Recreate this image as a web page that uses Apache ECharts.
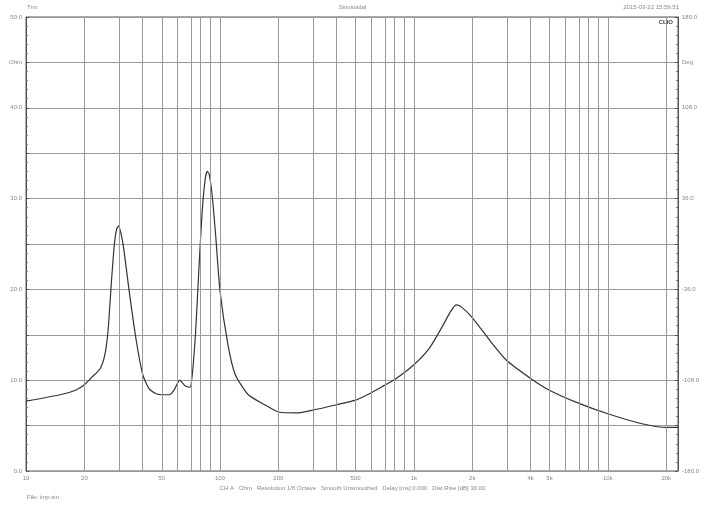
<!DOCTYPE html>
<html>
<head>
<meta charset="utf-8">
<script src="https://cdn.jsdelivr.net/npm/echarts@6/dist/echarts.min.js"></script>
<style>html,body{margin:0;padding:0;background:#fff}#chart{width:705px;height:508px}</style>
</head>
<body>
<div id="chart"></div>
<script>
// frequency (Hz) and impedance (Ohm)
var freqs = [10, 15, 18, 20, 22, 24, 25.5, 26.5, 27.5, 28.5, 29.3, 30, 31, 32, 34, 37, 40, 43, 47, 50, 55, 58, 62, 66, 70, 72, 75, 78, 81, 84, 86, 88, 91, 95, 100, 110, 120, 140, 170, 200, 250, 300, 400, 500, 600, 700, 800, 1000, 1200, 1400, 1550, 1650, 1750, 2000, 2500, 3000, 4000, 5000, 7000, 10000, 15000, 20000, 23000];
var ohms = [7.7, 8.4, 8.9, 9.5, 10.4, 11.2, 12.8, 15.5, 20.5, 24.8, 26.6, 27.0, 26.0, 24.3, 19.9, 14.4, 10.6, 9.1, 8.5, 8.4, 8.4, 8.9, 10.0, 9.4, 9.2, 10.6, 15.5, 22.5, 28.6, 32.2, 33.0, 32.7, 30.5, 26.0, 19.9, 13.9, 10.6, 8.4, 7.3, 6.5, 6.4, 6.7, 7.3, 7.8, 8.6, 9.4, 10.1, 11.7, 13.5, 15.9, 17.6, 18.3, 18.1, 16.9, 14.2, 12.2, 10.2, 8.9, 7.5, 6.3, 5.2, 4.8, 4.8];
var gridFreqs = [20, 30, 40, 50, 60, 70, 80, 90, 100, 200, 300, 400, 500, 600, 700, 800, 900, 1000, 2000, 3000, 4000, 5000, 6000, 7000, 8000, 9000, 10000, 20000];
var labelFreqs = [10, 20, 50, 100, 200, 500, 1000, 2000, 4000, 5000, 10000, 20000];

function fLabel(f) { return f >= 1000 ? (f / 1000) + 'k' : String(f); }
var lg = Math.log10;

var chart = echarts.init(document.getElementById('chart'));
var txt = { fill: '#888', fontSize: 6, fontFamily: 'Liberation Sans' };
chart.setOption({
  animation: false,
  grid: { left: 26, right: 27, top: 17, bottom: 37, show: true, borderColor: '#555', borderWidth: 1 },
  graphic: [
    { type: 'text', left: 27, top: 4, style: Object.assign({ text: 'Trm' }, txt) },
    { type: 'text', left: 'center', top: 4, style: Object.assign({ text: 'Sinusoidal' }, txt) },
    { type: 'text', right: 26, top: 4, style: Object.assign({ text: '2015-03-22 15:59:51' }, txt) },
    { type: 'text', right: 32, top: 19, style: { text: 'CLIO', fontSize: 6, fontWeight: 'bold', fill: '#444', fontFamily: 'Liberation Sans' } },
    { type: 'text', left: 'center', top: 485, style: Object.assign({ text: 'CH A   Ohm   Resolution 1/6 Octave   Smooth Unsmoothed   Delay [ms] 0.000   Dist Rise [dB] 30.00' }, txt) },
    { type: 'text', left: 27, top: 494, style: Object.assign({ text: 'File: imp.sin' }, txt) }
  ],
  xAxis: {
    type: 'value', min: 1, max: lg(23000),
    splitLine: { show: false },
    axisLine: { show: false },
    axisTick: { show: false },
    axisLabel: {
      customValues: labelFreqs.map(lg), fontSize: 6, color: '#888', margin: 4,
      formatter: function (v) { return fLabel(Math.round(Math.pow(10, v))); }
    }
  },
  yAxis: [{
    type: 'value', min: 0, max: 50, interval: 5,
    splitLine: { lineStyle: { color: '#999', width: 1 } },
    axisLine: { show: true, lineStyle: { color: '#555' } },
    axisTick: { show: true, inside: true, length: 3, lineStyle: { color: '#555' } },
    minorTick: { show: true, splitNumber: 5, length: 2, lineStyle: { color: '#777' } },
    axisLabel: {
      fontSize: 6, color: '#888', margin: 4,
      formatter: function (v) { return v === 45 ? 'Ohm' : (v % 10 === 0 ? v.toFixed(1) : ''); }
    }
  }, {
    type: 'value', min: -180, max: 180, interval: 36,
    splitLine: { show: false },
    axisLine: { show: true, lineStyle: { color: '#555' } },
    axisTick: { show: true, inside: true, length: 3, lineStyle: { color: '#555' } },
    minorTick: { show: true, splitNumber: 5, length: 2, lineStyle: { color: '#777' } },
    axisLabel: {
      fontSize: 6, color: '#888', margin: 4,
      formatter: function (v) {
        if (v === 144) return 'Deg';
        return [-180, -108, -36, 36, 108, 180].indexOf(v) >= 0 ? v.toFixed(1) : '';
      }
    }
  }],
  series: [{
    type: 'line',
    data: freqs.map(function (f, i) { return [lg(f), ohms[i]]; }),
    smooth: 0.2, symbol: 'none',
    lineStyle: { color: '#333', width: 1.2 },
    markLine: {
      silent: true, symbol: 'none', label: { show: false },
      lineStyle: { color: '#999', type: 'solid', width: 1 },
      data: gridFreqs.map(function (f) { return { xAxis: lg(f) }; })
    }
  }]
});
</script>
</body>
</html>
